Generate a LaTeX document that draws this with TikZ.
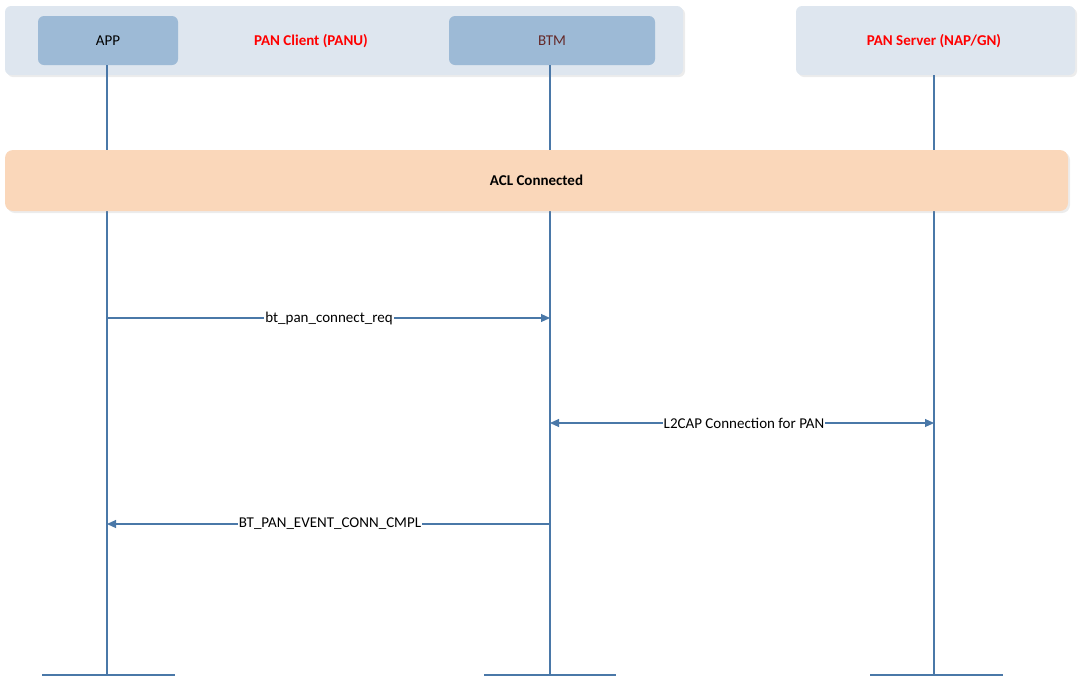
\documentclass[tikz,border=0pt]{standalone}
\usepackage{fontspec}
\setmainfont{Carlito}
\usetikzlibrary{arrows.meta,shadows}
\definecolor{panel}{HTML}{DEE6EF}
\definecolor{ent}{HTML}{9DBAD6}
\definecolor{life}{HTML}{4A78A8}
\definecolor{acl}{HTML}{FAD7BA}
\definecolor{pred}{HTML}{FF0000}
\begin{document}
\begin{tikzpicture}[x=1pt,y=-1pt,
  pan/.style={draw=none,fill=panel,rounded corners=6pt,drop shadow={opacity=0.15,shadow xshift=2pt,shadow yshift=-2pt}},
  ent/.style={draw=none,fill=ent,rounded corners=6pt,font=\fontsize{15}{18}\selectfont},
  title/.style={text=pred,font=\bfseries\fontsize{15}{18}\selectfont},
  life/.style={draw=life,line width=1.3pt},
  msg/.style={draw=life,line width=1.1pt,-{Triangle[length=9pt,width=8pt]}},
  lbl/.style={fill=white,inner sep=1pt,font=\fontsize{15}{18}\selectfont}]
\useasboundingbox (0,0) rectangle (1086,689);
\node[pan,minimum width=678pt,minimum height=69pt] (pl) at (344,40.5) {};
\node[pan,minimum width=279pt,minimum height=69pt] (pr) at (935.5,40.5) {};
\node[ent,minimum width=140pt,minimum height=49pt] (app) at (108,40.5) {APP};
\node[ent,minimum width=206pt,minimum height=49pt,text={rgb,255:red,100;green,40;blue,40}] (btm) at (552,40.5) {BTM};
\node[title] (pc) at (311,41) {PAN Client (PANU)};
\node[title] (ps) at (934,41) {PAN Server (NAP/GN)};
\coordinate (a0) at (107,65); \coordinate (a1) at (107,675);
\coordinate (b0) at (550,65); \coordinate (b1) at (550,675);
\coordinate (c0) at (934,75); \coordinate (c1) at (934,675);
\draw[life] (a0) -- (a1); \draw[life] (b0) -- (b1); \draw[life] (c0) -- (c1);
\draw[life] (42,675) -- (175,675);
\draw[life] (484,675) -- (616,675);
\draw[life] (870,675) -- (1003,675);
\node[draw=none,fill=acl,rounded corners=8pt,minimum width=1063pt,minimum height=61pt,drop shadow={opacity=0.15,shadow xshift=2pt,shadow yshift=-2pt},font=\bfseries\fontsize{15}{18}\selectfont] (acl) at (536.5,180.5) {ACL Connected};
\coordinate (m1a) at (107,318); \coordinate (m1b) at (550,318);
\coordinate (m2a) at (550,423); \coordinate (m2b) at (934,423);
\coordinate (m3a) at (550,524); \coordinate (m3b) at (107,524);
\draw[msg] (m1a) -- (m1b);
\node[lbl] (l1) at (329,318) {bt\_pan\_connect\_req};
\draw[msg,{Triangle[length=9pt,width=8pt]}-{Triangle[length=9pt,width=8pt]}] (m2a) -- (m2b);
\node[lbl] (l2) at (744,423) {L2CAP Connection for PAN};
\draw[msg] (m3a) -- (m3b);
\node[lbl] (l3) at (330,524) {BT\_PAN\_EVENT\_CONN\_CMPL};
\end{tikzpicture}
\end{document}
